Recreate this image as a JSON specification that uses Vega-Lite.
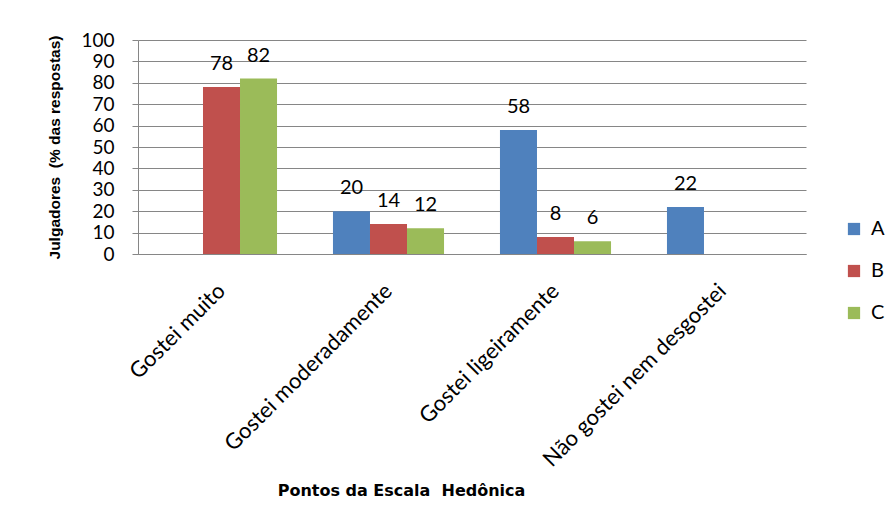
{
  "$schema": "https://vega.github.io/schema/vega-lite/v6.json",
  "width": 668,
  "height": 214,
  "autosize": "none",
  "padding": {"left": 138, "top": 40, "right": 86, "bottom": 266},
  "background": "white",
  "data": {
    "values": [
      {"ponto": "Gostei muito", "amostra": "B", "valor": 78},
      {"ponto": "Gostei muito", "amostra": "C", "valor": 82},
      {"ponto": "Gostei moderadamente", "amostra": "A", "valor": 20},
      {"ponto": "Gostei moderadamente", "amostra": "B", "valor": 14},
      {"ponto": "Gostei moderadamente", "amostra": "C", "valor": 12},
      {"ponto": "Gostei ligeiramente", "amostra": "A", "valor": 58},
      {"ponto": "Gostei ligeiramente", "amostra": "B", "valor": 8},
      {"ponto": "Gostei ligeiramente", "amostra": "C", "valor": 6},
      {"ponto": "Não gostei nem desgostei", "amostra": "A", "valor": 22}
    ]
  },
  "encoding": {
    "x": {
      "field": "ponto",
      "type": "nominal",
      "sort": ["Gostei muito", "Gostei moderadamente", "Gostei ligeiramente", "Não gostei nem desgostei"],
      "scale": {"paddingInner": 0.335, "paddingOuter": 0.1675},
      "axis": {
        "title": "Pontos da Escala\u00a0 Hedônica",
        "titleFont": "DejaVu Sans",
        "titleFontSize": 16,
        "titleFontWeight": "bold",
        "titleColor": "#000000",
        "titleX": 263,
        "titleY": 236,
        "titleAlign": "center",
        "titleBaseline": "middle",
        "labelAngle": -45,
        "labelAlign": "right",
        "labelBaseline": "middle",
        "labelFont": "Lato",
        "labelFontSize": 22,
        "labelColor": "#000000",
        "labelPadding": 33,
        "labelLimit": 400,
        "ticks": false,
        "domainColor": "#868686",
        "domainWidth": 1,
        "grid": false
      }
    },
    "xOffset": {"field": "amostra", "type": "nominal", "scale": {"domain": ["A", "B", "C"], "paddingInner": 0, "paddingOuter": 0}},
    "y": {
      "field": "valor",
      "type": "quantitative",
      "scale": {"domain": [0, 100], "nice": false},
      "axis": {
        "title": "Julgadores\u00a0 (% das respostas)",
        "titleFont": "Liberation Sans",
        "titleFontSize": 15.5,
        "titleFontWeight": "bold",
        "titleColor": "#000000",
        "titleX": -84,
        "titleY": 107,
        "titleAlign": "center",
        "titleBaseline": "middle",
        "values": [0, 10, 20, 30, 40, 50, 60, 70, 80, 90, 100],
        "labelFont": "Lato",
        "labelFontSize": 19,
        "labelColor": "#000000",
        "labelPadding": 18,
        "tickColor": "#868686",
        "tickSize": 6,
        "domainColor": "#868686",
        "gridColor": "#868686",
        "gridWidth": 1
      }
    }
  },
  "layer": [
    {
      "mark": {"type": "bar"},
      "encoding": {
        "color": {
          "field": "amostra",
          "type": "nominal",
          "scale": {"domain": ["A", "B", "C"], "range": ["#4F81BD", "#C0504D", "#9BBB59"]},
          "legend": {
            "title": null,
            "orient": "none",
            "legendX": 706,
            "legendY": 179,
            "symbolType": "square",
            "symbolSize": 150,
            "symbolStrokeWidth": 0,
            "labelFont": "Lato",
            "labelFontSize": 20,
            "labelColor": "#000000",
            "labelOffset": 7,
            "rowPadding": 22
          }
        }
      }
    },
    {
      "mark": {"type": "text", "baseline": "alphabetic", "dy": -17, "font": "Lato", "fontSize": 20, "color": "#000000"},
      "encoding": {"text": {"field": "valor", "type": "quantitative"}}
    }
  ],
  "config": {"view": {"stroke": null}}
}
